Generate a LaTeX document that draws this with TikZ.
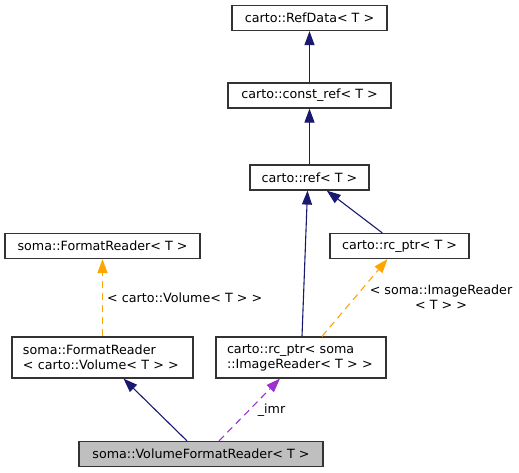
\documentclass[tikz,border=0pt]{standalone}
\usepackage{fontspec}
\setmainfont{DejaVu Sans}
\usetikzlibrary{arrows.meta}
\definecolor{edgenavy}{HTML}{191970}
\definecolor{edgeorange}{HTML}{FFA500}
\definecolor{edgepurple}{HTML}{9A32CD}
\definecolor{boxborder}{HTML}{333333}
\definecolor{boxfill}{HTML}{BFBFBF}
\begin{document}
\begin{tikzpicture}[x=1bp,y=-1bp,
  every node/.style={font=\fontsize{12.7bp}{15bp}\selectfont, inner sep=0pt},
  cls/.style={draw=boxborder, line width=1.2bp, fill=white, minimum height=25bp},
  cls2/.style={draw=boxborder, line width=1.2bp, fill=white, minimum height=41bp, align=left},
  inh/.style={draw=edgenavy, line width=1.1bp, -{Triangle[length=14bp,width=10bp]}},
  tmpl/.style={draw=edgeorange, line width=1.1bp, dash pattern=on 7bp off 5bp, -{Triangle[length=14bp,width=10bp]}},
  usage/.style={draw=edgepurple, line width=1.1bp, dash pattern=on 7bp off 5bp, -{Triangle[length=14bp,width=10bp]}},
  lbl/.style={text=black}
]
\useasboundingbox (0,0) rectangle (519,473);
\node[cls, minimum width=155bp] (refdata) at (309.5,18) {carto::RefData< T >};
\node[cls, minimum width=163bp] (constref) at (309.5,95.5) {carto::const\_ref< T >};
\node[cls, minimum width=119bp] (ref) at (309.5,177.5) {carto::ref< T >};
\node[cls, minimum width=195bp] (fmtT) at (102.5,246) {soma::FormatReader< T >};
\node[cls, minimum width=139bp] (rcT) at (399.5,246) {carto::rc\_ptr< T >};
\node[cls2, minimum width=181bp, text width=159bp] (fmtVol) at (102.5,357.5) {soma::FormatReader\\< carto::Volume< T > >};
\node[cls2, minimum width=170bp, text width=148bp] (rcImg) at (301,357.5) {carto::rc\_ptr< soma\\::ImageReader< T > >};
\node[cls, minimum width=244bp, fill=boxfill] (vfr) at (201,454) {soma::VolumeFormatReader< T >};

\draw[inh] (constref) -- (refdata);
\draw[inh] (ref) -- (constref);
\draw[inh] ([xshift=1bp]rcImg.north) -- ([xshift=-2bp]ref.south);
\draw[inh] (rcT) -- (ref);
\draw[tmpl] (fmtVol) -- (fmtT);
\draw[tmpl] ([xshift=21bp]rcImg.north) -- ([xshift=-12bp]rcT.south);
\draw[inh] ([xshift=-14bp]vfr.north) -- ([xshift=21bp]fmtVol.south);
\draw[usage] ([xshift=18bp]vfr.north) -- ([xshift=-21bp]rcImg.south);

\node[lbl, anchor=base west] (lblvol) at (107,302) {< carto::Volume< T > >};
\node[lbl, align=center] (lblimg) at (441,297.5) {< soma::ImageReader\\< T > >};
\node[lbl, anchor=base] (lblimr) at (271.5,413) {\_imr};
\end{tikzpicture}
\end{document}
